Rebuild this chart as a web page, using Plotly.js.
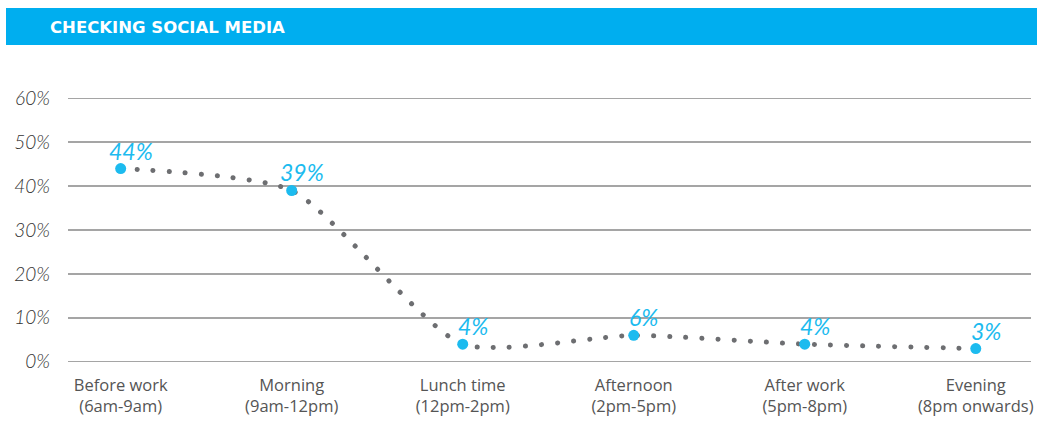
<!DOCTYPE html>
<html>
<head>
<meta charset="utf-8">
<script src="https://cdn.plot.ly/plotly-3.0.1.min.js"></script>
<style>
  html, body { margin: 0; padding: 0; background: #fff; }
  #chart { width: 1037px; height: 423px; }
  .scatterlayer .js-line { stroke-linecap: round !important; }
</style>
</head>
<body>
<div id="chart"></div>
<script>
// Data
const categories = [
  "Before work<br>(6am-9am)",
  "Morning<br>(9am-12pm)",
  "Lunch time<br>(12pm-2pm)",
  "Afternoon<br>(2pm-5pm)",
  "After work<br>(5pm-8pm)",
  "Evening<br>(8pm onwards)"
];
const values = [44, 39, 4, 6, 4, 3];
const valueLabels = ["44%", "39%", "4%", "6%", "4%", "3%"];
const yTickVals = [0, 10, 20, 30, 40, 50, 60];
const yTickText = ["0%", "10%", "20%", "30%", "40%", "50%", "60%"];
const chartTitle = "CHECKING SOCIAL MEDIA";

const BLUE = "#1cbbef";
const GREY_DOT = "#6d6e71";

const trace = {
  x: categories,
  y: values,
  type: "scatter",
  mode: "lines+markers",
  line: { shape: "spline", smoothing: 0.6, color: GREY_DOT, width: 5, dash: "0.1px,16px" },
  marker: { color: BLUE, size: 11 },
  hoverinfo: "skip",
  cliponaxis: false
};

const annotations = values.map((v, i) => ({
  x: categories[i], y: v, xref: "x", yref: "y",
  text: valueLabels[i], showarrow: false,
  xanchor: "center", yanchor: "bottom",
  xshift: 10, yshift: 2,
  font: { family: "Lato, 'Open Sans', sans-serif", size: 23, color: BLUE, style: "italic", weight: 400 }
}));

const layout = {
  width: 1037, height: 423,
  margin: { l: 68, r: 6, t: 90, b: 58, pad: 0 },
  paper_bgcolor: "#ffffff",
  plot_bgcolor: "#ffffff",
  showlegend: false,
  title: {
    text: "<b>" + chartTitle + "</b>",
    xref: "container", yref: "container",
    x: 50 / 1037, y: 1 - 27 / 423,
    xanchor: "left", yanchor: "middle",
    font: { family: "'DejaVu Sans', sans-serif", size: 16.5, color: "#ffffff" }
  },
  shapes: [{
    type: "rect", xref: "paper", yref: "paper", layer: "below",
    x0: (6 - 68) / 963, x1: (1037 - 68) / 963,
    y0: (365 - 45) / 275, y1: (365 - 8) / 275,
    fillcolor: "#00aeef", line: { width: 0 }
  }],
  xaxis: {
    type: "category",
    range: [-0.308, 5.323],
    showgrid: false, zeroline: false, showline: false,
    ticks: "", ticklabelstandoff: 8,
    tickfont: { family: "'Open Sans', sans-serif", size: 16.5, color: "#555555" },
    fixedrange: true
  },
  yaxis: {
    range: [-0.75, 61.89],
    tickvals: yTickVals, ticktext: yTickText,
    showgrid: true, gridcolor: "#a5a5a5", gridwidth: 1.5,
    zeroline: false, showline: false, ticks: "",
    ticklabelstandoff: 17,
    tickfont: { family: "Lato, 'Open Sans', sans-serif", size: 19, color: "#333333", style: "italic", weight: 300 },
    fixedrange: true
  },
  annotations: annotations
};

Plotly.newPlot("chart", [trace], layout, { displayModeBar: false, staticPlot: true });
</script>
</body>
</html>
